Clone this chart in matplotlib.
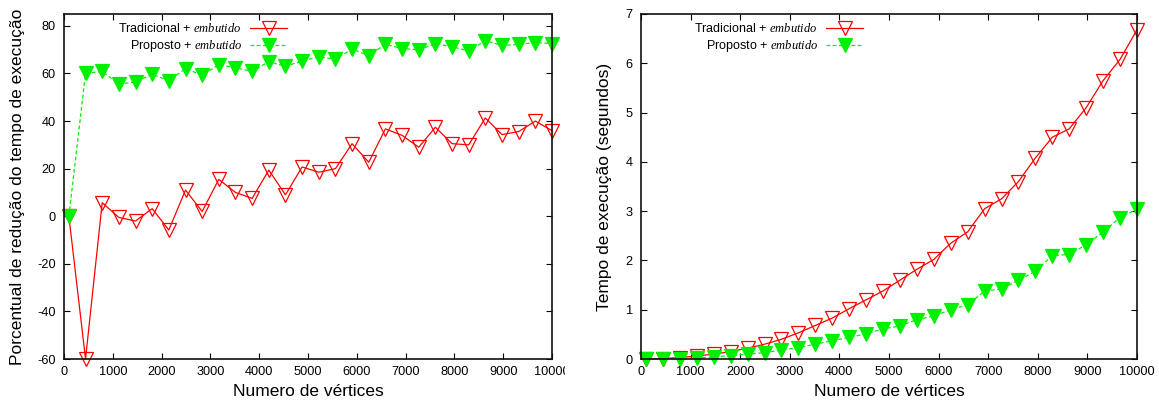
import matplotlib
matplotlib.use("Agg")
import matplotlib.pyplot as plt
from matplotlib.transforms import Bbox, TransformedBbox

plt.rcParams['font.family'] = ['Liberation Sans', 'DejaVu Sans']
plt.rcParams['mathtext.fontset'] = 'custom'
plt.rcParams['mathtext.it'] = 'Liberation Serif:italic'
plt.rcParams['mathtext.rm'] = 'Liberation Serif'
plt.rcParams['axes.unicode_minus'] = False

# ---------------- data ----------------
vertices = [100, 441, 783, 1124, 1466, 1807, 2148, 2490, 2831, 3172,
            3514, 3855, 4197, 4538, 4879, 5221, 5562, 5903, 6245, 6586,
            6928, 7269, 7610, 7952, 8293, 8634, 8976, 9317, 9659, 10000]

reducao_tradicional = [0, -60, 5.7, -0.5, -2, 3.2, -5.8, 11, 2, 15.5,
                       10, 7.5, 19.4, 9, 20.7, 18.5, 20, 30.5, 22.7, 36.7,
                       34, 29, 37.4, 30.5, 30, 41.3, 34.3, 35.6, 40, 36]
reducao_proposto = [0, 60, 60.9, 55.5, 56.5, 59.6, 57, 62, 59.3, 63.7,
                    62.4, 60.9, 65, 63, 65.3, 67, 66, 70.3, 67.5, 72.3,
                    70.5, 70, 72.5, 71.3, 69.4, 73.8, 71.8, 72.2, 73, 72.6]

tempo_tradicional = [0.0, 0.01, 0.03, 0.06, 0.1, 0.15, 0.22, 0.3, 0.4, 0.53,
                     0.68, 0.83, 1.02, 1.2, 1.38, 1.6, 1.82, 2.02, 2.35, 2.58,
                     3.05, 3.25, 3.6, 4.08, 4.5, 4.67, 5.1, 5.65, 6.08, 6.68]
tempo_proposto = [0.0, 0.0, 0.0, 0.02, 0.04, 0.07, 0.1, 0.13, 0.18, 0.23,
                  0.3, 0.37, 0.44, 0.51, 0.61, 0.67, 0.8, 0.87, 1.0, 1.1,
                  1.38, 1.42, 1.6, 1.78, 2.1, 2.12, 2.32, 2.58, 2.87, 3.04]

label_trad = r'Tradicional + $\mathit{embutido}$'
label_prop = r'Proposto + $\mathit{embutido}$'
xlabel = 'Numero de vértices'
ylabel_left = 'Porcentual de redução do tempo de execução'
ylabel_right = 'Tempo de execução (segundos)'
xticks = [0, 1000, 2000, 3000, 4000, 5000, 6000, 7000, 8000, 9000, 10000]
yticks_left = [-60, -40, -20, 0, 20, 40, 60, 80]
yticks_right = [0, 1, 2, 3, 4, 5, 6, 7]

RED = '#ff0000'
GREEN = '#00f000'

W, H = 1159, 403
fig = plt.figure(figsize=(W / 100, H / 100), dpi=100)

def px_axes(x0, x1, y0, y1):
    return fig.add_axes([x0 / W, 1 - y1 / H, (x1 - x0) / W, (y1 - y0) / H])

axL = px_axes(64, 552, 14, 359)
axR = px_axes(641, 1137, 14, 359)

def style(ax, yticks, ylim, ylabel, ylab_x, legend_right):
    ax.set_xlim(0, 10000)
    ax.set_ylim(*ylim)
    ax.set_xticks(xticks)
    ax.set_yticks(yticks)
    ax.tick_params(direction='in', length=4, width=0.8, top=True, right=True,
                   labelsize=9.2, colors='black')
    ax.tick_params(axis='y', pad=6)
    ax.tick_params(axis='x', pad=5)
    for s in ax.spines.values():
        s.set_linewidth(1.2)
        s.set_color('#111111')
    ax.set_xlabel(xlabel, fontsize=12.5, va='center')
    ax.xaxis.set_label_coords(0.5, (359 - 392) / 345)
    ax.set_ylabel(ylabel, fontsize=12.5, va='center')
    ax.yaxis.set_label_coords(ylab_x, 0.5)
    leg = ax.legend(loc='upper right', bbox_to_anchor=(legend_right / W, 1 - 22 / H),
                    bbox_transform=fig.transFigure, frameon=False, markerfirst=False,
                    fontsize=9, handlelength=2.95, handletextpad=0.65, numpoints=1,
                    borderpad=0, borderaxespad=0, labelspacing=0.28)
    return leg

mk = dict(marker='v', markersize=9.5, markeredgewidth=0.9)

axL.plot(vertices, reducao_tradicional, color=RED, lw=0.9, markerfacecolor='none',
         markeredgecolor=RED, label=label_trad, **mk)
axL.plot(vertices, reducao_proposto, color=GREEN, lw=0.9, ls=(0, (3, 2)),
         markerfacecolor=GREEN, markeredgecolor=GREEN, label=label_prop, **mk)
style(axL, yticks_left, (-60, 85), ylabel_left, (18 - 64) / 488, 287)

axR.plot(vertices, tempo_tradicional, color=RED, lw=0.9, markerfacecolor='none',
         markeredgecolor=RED, label=label_trad, **mk)
axR.plot(vertices, tempo_proposto, color=GREEN, lw=0.9, ls=(0, (3, 2)),
         markerfacecolor=GREEN, markeredgecolor=GREEN, label=label_prop, **mk)
style(axR, yticks_right, (0, 7), ylabel_right, (605 - 641) / 496, 863)

for ax in (axL, axR):
    for line in ax.lines:
        line.set_clip_on(False)

# clip the left panel's last tick label like the original image
fig.canvas.draw()
clip = TransformedBbox(Bbox([[0, 0], [565 / W, 1]]), fig.transFigure)
for lab in axL.get_xticklabels():
    lab.set_clip_box(clip)
    lab.set_clip_on(True)

fig.savefig('out.png', dpi=100)
